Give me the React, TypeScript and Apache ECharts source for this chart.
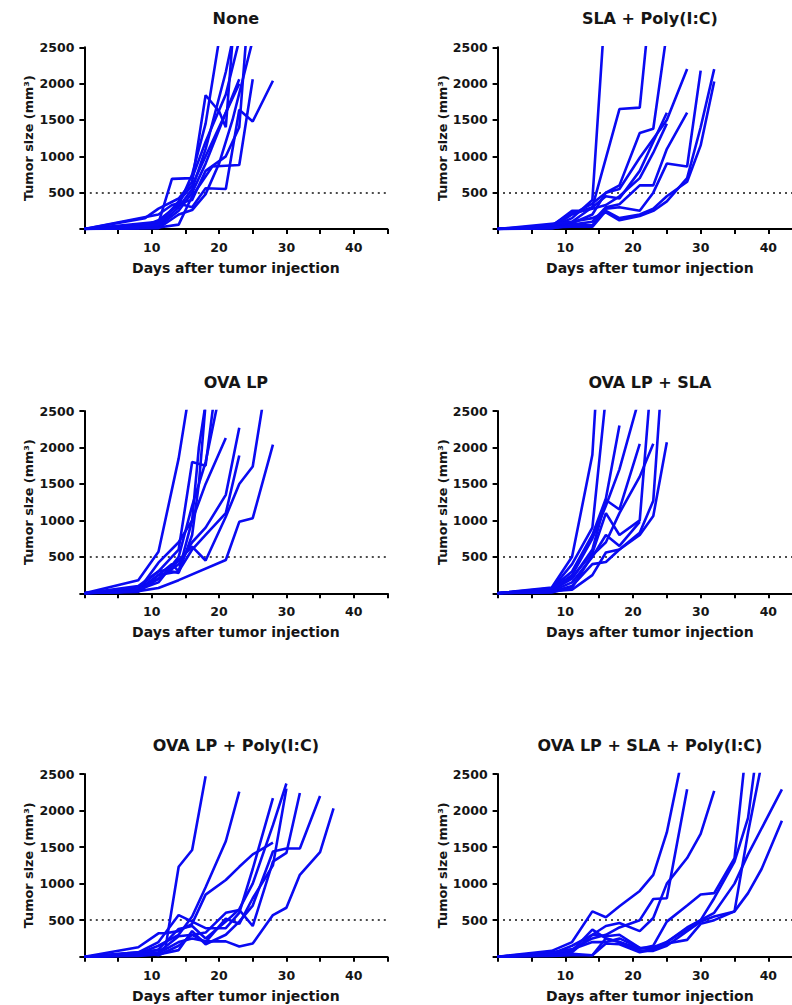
import React, { useEffect, useRef } from "react";
import * as echarts from "echarts";

// ---- data: each panel holds one [day, tumor size] list per mouse ----
const TITLES = [
  "None",
  "SLA + Poly(I:C)",
  "OVA LP",
  "OVA LP + SLA",
  "OVA LP + Poly(I:C)",
  "OVA LP + SLA + Poly(I:C)",
];

const NONE: number[][][] = [
  [[0, 0], [8, 10], [11, 120], [14, 330], [16, 750], [18, 1450], [20, 2600]],
  [[0, 0], [9, 150], [11, 280], [14, 420], [16, 650], [18, 1840], [20, 1620], [21, 1400], [22, 2600]],
  [[0, 0], [11, 50], [14, 300], [16, 550], [18, 1100], [21, 2160], [22, 2600]],
  [[0, 0], [11, 80], [13, 690], [16, 700], [18, 1200], [21, 1850], [23, 2600]],
  [[0, 0], [11, 30], [14, 250], [16, 500], [18, 900], [21, 1600], [23, 2060]],
  [[0, 0], [11, 20], [14, 60], [16, 450], [19, 860], [23, 880], [25, 2060]],
  [[0, 0], [11, 100], [14, 350], [16, 300], [18, 560], [21, 550], [23, 1640], [25, 1480], [28, 2040]],
  [[0, 0], [11, 10], [14, 200], [16, 260], [18, 480], [20, 900], [22, 1500], [25, 2600]],
  [[0, 0], [8, 30], [11, 60], [14, 380], [16, 600], [18, 1000], [20, 1400], [23, 2000]],
  [[0, 0], [11, 200], [13, 330], [16, 400], [18, 800], [21, 1000], [23, 1400], [24, 2600]],
];

const SLA_POLY: number[][][] = [
  [[0, 0], [8, 30], [11, 150], [14, 400], [16, 3200]],
  [[0, 0], [8, 20], [11, 200], [14, 300], [18, 1650], [21, 1670], [22, 2600]],
  [[0, 0], [8, 40], [11, 250], [12, 250], [14, 350], [16, 500], [18, 600], [21, 1320], [23, 1380], [25, 2700]],
  [[0, 0], [8, 30], [11, 100], [14, 300], [16, 450], [18, 420], [21, 800], [23, 1200], [25, 1600]],
  [[0, 0], [8, 20], [11, 80], [14, 200], [16, 500], [18, 550], [21, 980], [25, 1500], [28, 2200]],
  [[0, 0], [8, 10], [11, 60], [14, 100], [16, 300], [18, 340], [21, 600], [23, 600], [25, 1100], [28, 1600]],
  [[0, 0], [8, 10], [11, 50], [14, 50], [16, 280], [18, 300], [21, 250], [23, 500], [25, 900], [28, 860], [30, 2180]],
  [[0, 0], [11, 30], [14, 30], [16, 250], [18, 150], [21, 200], [23, 280], [25, 450], [28, 650], [30, 1150], [32, 2030]],
  [[0, 0], [11, 100], [14, 150], [16, 230], [18, 120], [21, 180], [23, 250], [25, 380], [28, 700], [30, 1400], [32, 2200]],
  [[0, 0], [8, 50], [11, 220], [14, 280], [16, 330], [18, 450], [21, 700], [23, 1050], [25, 1450]],
];

const OVA_LP: number[][][] = [
  [[0, 0], [8, 180], [11, 570], [14, 1850], [16, 3000]],
  [[0, 0], [8, 80], [11, 300], [14, 600], [16, 1800], [18, 1750], [20, 3200]],
  [[0, 0], [8, 50], [11, 250], [13, 400], [14, 300], [16, 1000], [17, 2000], [18, 2600]],
  [[0, 0], [8, 50], [11, 150], [14, 500], [16, 1200], [18, 1800], [20, 2700]],
  [[0, 0], [8, 40], [11, 420], [14, 700], [16, 1000], [18, 1500], [21, 2130]],
  [[0, 0], [8, 30], [11, 200], [14, 400], [16, 700], [18, 900], [21, 1350], [23, 2270]],
  [[0, 0], [8, 20], [11, 250], [14, 300], [16, 600], [18, 800], [21, 1100], [23, 1890]],
  [[0, 0], [8, 30], [11, 200], [14, 450], [16, 640], [18, 450], [21, 1050], [23, 1500], [25, 1740], [26.5, 2600]],
  [[0, 0], [8, 30], [11, 73], [14, 180], [21, 457], [23, 980], [25, 1030], [28, 2040]],
  [[0, 0], [8, 100], [11, 300], [12, 320], [14, 280], [16, 800], [17, 1500], [18, 2600]],
];

const OVA_SLA: number[][][] = [
  [[0, 0], [8, 80], [11, 500], [14, 1900], [15, 3400]],
  [[0, 0], [8, 60], [11, 400], [14, 900], [16, 2700]],
  [[0, 0], [8, 70], [11, 300], [14, 800], [16, 1300], [18, 2300]],
  [[0, 0], [8, 50], [11, 250], [14, 750], [16, 1200], [18, 1700], [21, 2700]],
  [[0, 0], [8, 40], [11, 200], [14, 600], [16, 1280], [18, 1150], [21, 2050]],
  [[0, 0], [8, 60], [11, 220], [14, 550], [16, 1100], [18, 800], [21, 1000], [23, 3300]],
  [[0, 0], [8, 30], [11, 150], [14, 500], [16, 800], [18, 650], [21, 980]],
  [[0, 0], [8, 20], [11, 100], [14, 400], [16, 430], [18, 600], [21, 830], [23, 1270], [24, 2600]],
  [[0, 0], [8, 30], [11, 50], [14, 250], [16, 560], [18, 600], [21, 800], [23, 1060], [25, 2070]],
  [[0, 0], [8, 10], [11, 80], [14, 520], [16, 700], [18, 1100], [21, 1600], [23, 2050]],
];

const OVA_POLY: number[][][] = [
  [[0, 0], [8, 60], [12, 100], [14, 1230], [16, 1460], [18, 2470]],
  [[0, 0], [8, 40], [11, 150], [14, 300], [16, 550], [18, 950], [21, 1580], [23, 2260]],
  [[0, 0], [8, 130], [11, 320], [12, 320], [14, 350], [16, 450], [18, 850], [21, 1050], [23, 1230], [25, 1400], [28, 1560]],
  [[0, 0], [8, 60], [11, 200], [14, 570], [16, 480], [18, 390], [21, 390], [23, 600], [25, 1200], [28, 2170]],
  [[0, 0], [8, 30], [11, 100], [14, 380], [16, 420], [18, 250], [21, 480], [23, 650], [25, 1000], [28, 1800], [30, 2370]],
  [[0, 0], [8, 20], [11, 60], [14, 280], [16, 300], [18, 330], [21, 600], [23, 640], [25, 420], [28, 1300], [30, 1420], [32, 2240]],
  [[0, 0], [8, 10], [11, 30], [14, 90], [16, 350], [18, 170], [21, 300], [23, 480], [25, 700], [28, 1440], [30, 1480], [32, 1480], [35, 2200]],
  [[0, 0], [8, 20], [11, 50], [14, 200], [16, 250], [18, 210], [21, 210], [23, 140], [25, 180], [28, 570], [30, 670], [32, 1120], [35, 1430], [37, 2030]],
  [[0, 0], [8, 50], [11, 20], [14, 150], [16, 300], [18, 200], [21, 520], [23, 450], [25, 800], [28, 1250], [30, 2300]],
];

const OVA_SLA_POLY: number[][][] = [
  [[0, 0], [8, 80], [11, 200], [14, 620], [16, 540], [18, 690], [21, 900], [23, 1120], [25, 1700], [27, 2600]],
  [[0, 0], [8, 60], [11, 100], [14, 250], [16, 300], [18, 400], [21, 500], [23, 790], [25, 800], [28, 2290]],
  [[0, 0], [8, 40], [11, 150], [14, 300], [16, 420], [18, 460], [21, 350], [23, 530], [25, 1000], [28, 1350], [30, 1680], [32, 2270]],
  [[0, 0], [8, 30], [11, 80], [14, 370], [16, 250], [18, 200], [21, 110], [23, 150], [25, 480], [28, 700], [30, 850], [32, 870], [35, 1350], [37, 3100]],
  [[0, 0], [8, 20], [11, 60], [14, 300], [16, 280], [18, 300], [21, 120], [23, 100], [25, 200], [28, 400], [30, 500], [32, 800], [35, 1300], [37, 1900], [38, 2600]],
  [[0, 0], [8, 10], [11, 20], [14, 20], [16, 250], [18, 200], [21, 80], [23, 80], [25, 150], [28, 350], [30, 480], [32, 550], [35, 620], [37, 1700], [39, 2640]],
  [[0, 0], [8, 50], [11, 100], [14, 200], [16, 200], [18, 250], [21, 120], [23, 130], [25, 200], [28, 380], [30, 500], [32, 600], [35, 1000], [37, 1400], [42, 2290]],
  [[0, 0], [8, 30], [11, 40], [14, 20], [16, 180], [18, 170], [21, 60], [23, 100], [25, 180], [28, 230], [30, 450], [32, 500], [35, 620], [37, 870], [39, 1200], [42, 1860]],
];

const PANELS = [NONE, SLA_POLY, OVA_LP, OVA_SLA, OVA_POLY, OVA_SLA_POLY];
const THRESHOLD = 500;
const X_MAX = 45;
const Y_MAX = 2500;
const X_LABELED = [10, 20, 30, 40];

// ---- layout ----
const COL_LEFT = [84.4, 497.6];
const COL_W = [303, 304.6];
const ROW_TOP = [47.3, 411, 774];
const ROW_H = [181.7, 182.3, 182.7];
const BLUE = "#0a0af2";
const TXT = "#151515";

export default function App() {
  const ref = useRef<HTMLDivElement>(null);
  useEffect(() => {
    if (!ref.current) return;
    const chart = echarts.init(ref.current, undefined, { renderer: "svg" });
    const grid: any[] = [];
    const xAxis: any[] = [];
    const yAxis: any[] = [];
    const series: any[] = [];
    const graphic: any[] = [];
    PANELS.forEach((mice, i) => {
      const col = i % 2;
      const row = Math.floor(i / 2);
      const left = COL_LEFT[col];
      const width = COL_W[col];
      const top = ROW_TOP[row];
      const height = ROW_H[row];
      grid.push({ left, top, width, height, containLabel: false });
      xAxis.push({
        gridIndex: i,
        type: "value",
        min: 0,
        max: X_MAX,
        interval: 5,
        name: "Days after tumor injection",
        nameLocation: "middle",
        nameGap: 32,
        nameTextStyle: { fontFamily: "DejaVu Sans", fontWeight: "bold", fontSize: 14, color: TXT },
        axisLine: { lineStyle: { color: "#000", width: 2 } },
        axisTick: { show: true, inside: false, length: 5, lineStyle: { color: "#000", width: 2 } },
        axisLabel: {
          margin: 12,
          fontFamily: "DejaVu Sans",
          fontWeight: "bold",
          fontSize: 12.5,
          color: TXT,
          formatter: (v: number) => (X_LABELED.includes(v) ? String(v) : ""),
        },
        splitLine: { show: false },
      });
      yAxis.push({
        gridIndex: i,
        type: "value",
        min: 0,
        max: Y_MAX,
        interval: 500,
        name: "Tumor size (mm³)",
        nameLocation: "middle",
        nameGap: 49,
        nameTextStyle: { fontFamily: "DejaVu Sans", fontWeight: "bold", fontSize: 12.8, color: TXT },
        axisLine: { show: true, lineStyle: { color: "#000", width: 2 } },
        axisTick: { show: true, inside: false, length: 5, lineStyle: { color: "#000", width: 2 } },
        axisLabel: {
          margin: 10,
          fontFamily: "DejaVu Sans",
          fontWeight: "bold",
          fontSize: 12.5,
          color: TXT,
          formatter: (v: number) => (v === 0 ? "" : String(v)),
        },
        splitLine: { show: false },
      });
      mice.forEach((d, k) => {
        const s: any = {
          type: "line",
          xAxisIndex: i,
          yAxisIndex: i,
          data: d,
          symbol: "none",
          showSymbol: false,
          clip: true,
          silent: true,
          lineStyle: { color: BLUE, width: 2.6 },
          z: 3,
        };
        if (k === 0) {
          s.markLine = {
            silent: true,
            symbol: "none",
            label: { show: false },
            lineStyle: { color: "#111", type: [2, 4], width: 1.6 },
            data: [[{ coord: [0.8, THRESHOLD] }, { coord: [X_MAX, THRESHOLD] }]],
            z: 1,
          };
        }
        series.push(s);
      });
      graphic.push({
        type: "text",
        x: left + width / 2,
        y: top - 29,
        style: {
          text: TITLES[i],
          fontFamily: "DejaVu Sans",
          fontWeight: "bold",
          fontSize: 16,
          fill: TXT,
          align: "center",
          verticalAlign: "middle",
        },
      });
    });
    chart.setOption({ animation: false, grid, xAxis, yAxis, series, graphic });
    return () => chart.dispose();
  }, []);
  return (
    <div style={{ position: "absolute", left: 0, top: 0, width: 792, height: 1005, overflow: "hidden", background: "#fff" }}>
      <div ref={ref} style={{ width: 820, height: 1005 }} />
    </div>
  );
}
